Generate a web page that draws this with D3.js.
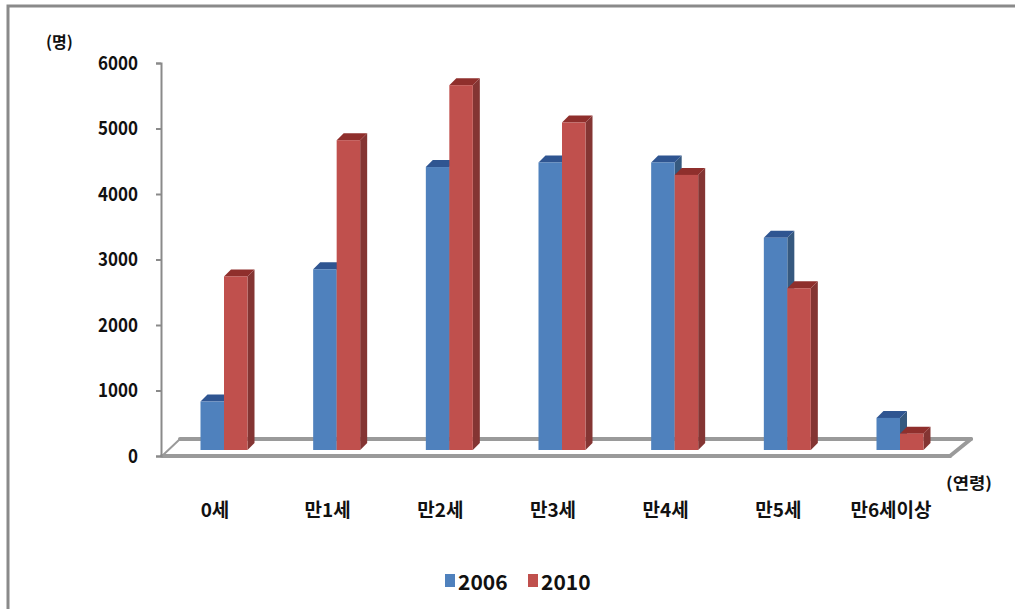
<!DOCTYPE html>
<html><head><meta charset="utf-8">
<script src="https://cdnjs.cloudflare.com/ajax/libs/d3/7.8.5/d3.min.js"></script>
<style>
html,body{margin:0;padding:0;background:#fff;}
svg{display:block;}
text{font-family:"Noto Sans CJK KR","Noto Sans",sans-serif;font-weight:700;fill:#111;}
</style></head>
<body>
<svg id="chart" width="1015" height="609"></svg>
<script>
const categories = ["0세","만1세","만2세","만3세","만4세","만5세","만6세이상"];
const seriesNames = ["2006","2010"];
const values2006 = [740, 2760, 4320, 4390, 4390, 3240, 490];
const values2010 = [2650, 4730, 5570, 5000, 4200, 2470, 250];
const yTicks = [0,1000,2000,3000,4000,5000,6000];
const yUnit = "(명)";
const xUnit = "(연령)";

const svg = d3.select("#chart");
const W = 1015, H = 609;

// frame (top & left edges visible)
svg.append("path").attr("d", `M8,${H} L8,6 L${W},6`)
  .attr("fill","none").attr("stroke","#8a8a8a").attr("stroke-width",3);

const y = d3.scaleLinear().domain([0,6000]).range([456,63]);
const depthY = 6;      // bars sit slightly behind the front edge
const yBar = d3.scaleLinear().domain([0,6000]).range([456-depthY, 63-depthY]);
const x = d3.scalePoint().domain(categories).range([224, 900]);
const barW = 23.5;
const topDx = 7, topDy = 7;

// floor
const floor = svg.append("g").attr("fill","none").attr("stroke","#9a9a9a").attr("stroke-linecap","round");
floor.append("line").attr("x1",180).attr("y1",439).attr("x2",971).attr("y2",439).attr("stroke-width",4);
floor.append("line").attr("x1",162).attr("y1",456).attr("x2",950).attr("y2",456).attr("stroke-width",4);
floor.append("line").attr("x1",162).attr("y1",456).attr("x2",180).attr("y2",439).attr("stroke-width",2);
floor.append("line").attr("x1",950).attr("y1",456).attr("x2",971).attr("y2",439).attr("stroke-width",4);

// y axis
const yAxis = d3.axisLeft(y).tickValues(yTicks).tickSize(5).tickPadding(18).tickFormat(d3.format("d"));
const ga = svg.append("g").attr("transform","translate(161,0)").call(yAxis);
ga.select(".domain").attr("stroke","#8a8a8a").attr("stroke-width",2);
ga.selectAll(".tick line").attr("stroke","#8a8a8a").attr("stroke-width",2);
ga.selectAll(".tick text").attr("font-size",19).attr("fill","#111")
  .attr("font-family","'Noto Sans CJK KR','Noto Sans',sans-serif").attr("font-weight",700)
  .attr("textLength", d => String(d).length * 10).attr("lengthAdjust","spacingAndGlyphs");

// bars
const colors = [
  {front:"#4f81bd", side:"#36597f", top:"#2f5591"},
  {front:"#c0504d", side:"#843533", top:"#8f2f2c"}
];
const series = [values2006, values2010];
const gBars = svg.append("g");
categories.forEach((c, i) => {
  series.forEach((vals, s) => {
    const x0 = x(c) - barW + s*barW;
    const x1 = x0 + barW;
    const yt = yBar(vals[i]);
    const yb = yBar(0);
    const col = colors[s];
    const g = gBars.append("g");
    g.append("path").attr("d",`M${x1},${yt} L${x1+topDx},${yt-topDy} L${x1+topDx},${yb-topDy} L${x1},${yb} Z`)
      .attr("fill",col.side);
    g.append("path").attr("d",`M${x0},${yt} L${x0+topDx},${yt-topDy} L${x1+topDx},${yt-topDy} L${x1},${yt} Z`)
      .attr("fill",col.top);
    g.append("rect").attr("x",x0).attr("y",yt).attr("width",barW).attr("height",yb-yt)
      .attr("fill",col.front);
  });
});

// category labels
svg.append("g").selectAll("text").data(categories).join("text")
  .attr("x", d => x(d) - 9).attr("y", 508)
  .attr("text-anchor","middle").attr("dominant-baseline","central")
  .attr("font-size",19).text(d => d);

// units
svg.append("text").attr("x",46).attr("y",41).attr("dominant-baseline","central")
  .attr("font-size",16).text(yUnit);
svg.append("text").attr("x",946).attr("y",482).attr("dominant-baseline","central")
  .attr("font-size",16).attr("textLength",46).attr("lengthAdjust","spacingAndGlyphs").text(xUnit);

// legend
const legX = [445, 528];
seriesNames.forEach((n, s) => {
  svg.append("rect").attr("x",legX[s]).attr("y",574).attr("width",10).attr("height",13).attr("fill",colors[s].front);
  svg.append("text").attr("x",legX[s]+13).attr("y",581).attr("dominant-baseline","central")
    .attr("font-size",21).text(n);
});
</script>
</body></html>
